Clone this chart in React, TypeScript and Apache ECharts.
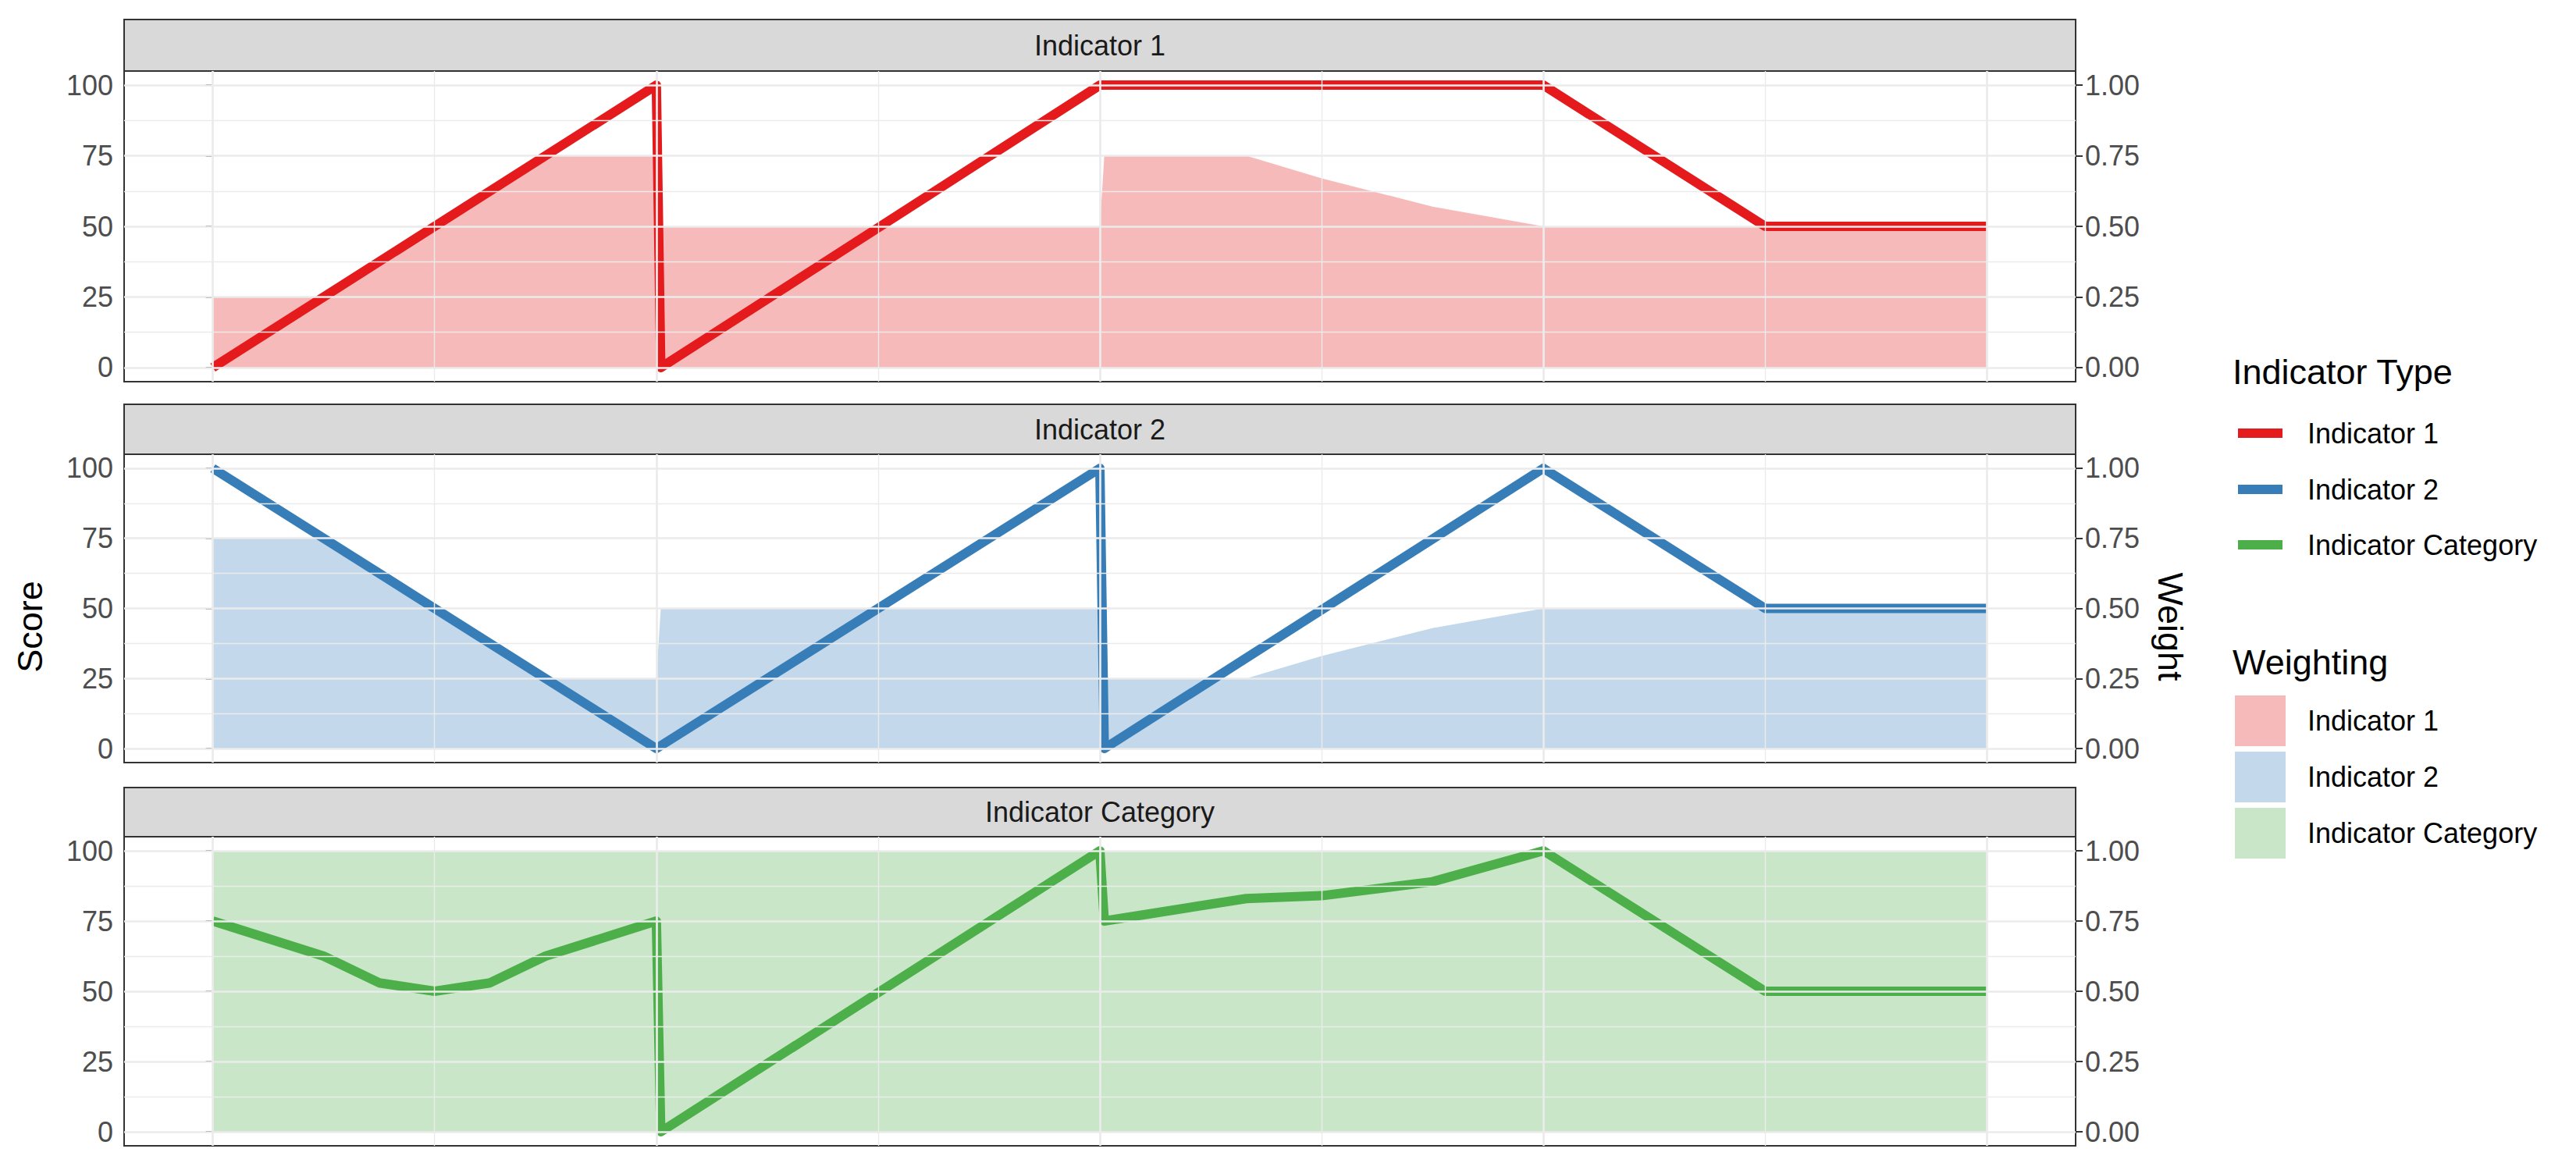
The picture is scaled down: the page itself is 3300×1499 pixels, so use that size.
import { useEffect, useRef } from "react";
import * as echarts from "echarts";

const panelNames = ["Indicator 1", "Indicator 2", "Indicator Category"];
const lineColors = ["#E41A1C", "#377EB8", "#4DAF4A"];

// score lines: [day, score]
const score1 = [[0, 0], [1, 100], [1.01, 0], [2, 100], [3, 100], [3.5, 50], [4, 50]];
const score2 = [[0, 100], [1, 0], [2, 100], [2.01, 0], [3, 100], [3.5, 50], [4, 50]];
const scoreCat = [
  [0, 75], [0.25, 62.5], [0.375, 53], [0.5, 50], [0.625, 53], [0.75, 62.5], [1, 75],
  [1.01, 0], [2, 100], [2.01, 75], [2.33, 83], [2.5, 84], [2.75, 89], [3, 100], [3.5, 50], [4, 50],
];

// weights: [day, weight]
const weight1 = [
  [0, 0.25], [0.25, 0.25], [0.75, 0.75], [1, 0.75], [1.01, 0.5], [2, 0.5], [2.01, 0.75],
  [2.33, 0.75], [2.5, 0.67], [2.75, 0.57], [3, 0.5], [4, 0.5],
];
const weight2 = [
  [0, 0.75], [0.25, 0.75], [0.75, 0.25], [1, 0.25], [1.01, 0.5], [2, 0.5], [2.01, 0.25],
  [2.33, 0.25], [2.5, 0.33], [2.75, 0.43], [3, 0.5], [4, 0.5],
];
const weightCat = [[0, 1], [4, 1]];

const scores = [score1, score2, scoreCat];
const weights = [weight1, weight2, weightCat];

const scoreTicks = [0, 25, 50, 75, 100];
const weightTicks = [0, 0.25, 0.5, 0.75, 1];

const FONT = "Liberation Sans, Arial, sans-serif";
const LEFT = 159;
const WIDTH = 2500;
const strips = [
  { top: 25, bottom: 91, end: 489 },
  { top: 518, bottom: 582, end: 977 },
  { top: 1009, bottom: 1072, end: 1468 },
];

export default function App() {
  const ref = useRef<HTMLDivElement>(null);

  useEffect(() => {
    if (!ref.current) return;
    const chart = echarts.init(ref.current, undefined, { renderer: "svg" });

    const grid: any[] = [];
    const xAxis: any[] = [];
    const yAxis: any[] = [];
    const series: any[] = [];
    const graphic: any[] = [];

    strips.forEach((s, i) => {
      grid.push({
        left: LEFT, width: WIDTH, top: s.bottom, height: s.end - s.bottom,
        show: true, borderColor: "#333333", borderWidth: 2, backgroundColor: "#fff",
      });
      xAxis.push({
        type: "value", gridIndex: i, min: -0.2, max: 4.2, show: false,
      });
      yAxis.push({
        type: "value", gridIndex: i, min: -5, max: 105, position: "left",
        axisLine: { show: false },
        axisTick: { show: true, length: 9, customValues: scoreTicks, lineStyle: { color: "#333", width: 2 } },
        axisLabel: { customValues: scoreTicks, color: "#4D4D4D", fontSize: 36, fontFamily: FONT, margin: 14 },
        splitLine: { show: false },
      });
      yAxis.push({
        type: "value", gridIndex: i, min: -0.05, max: 1.05, position: "right",
        axisLine: { show: false },
        axisTick: { show: true, length: 9, customValues: weightTicks, lineStyle: { color: "#333", width: 2 } },
        axisLabel: {
          customValues: weightTicks, color: "#4D4D4D", fontSize: 36, fontFamily: FONT, margin: 12,
          formatter: (v: number) => v.toFixed(2),
        },
        splitLine: { show: false },
      });

      // grid lines
      const marks: any[] = [];
      for (let v = 0; v <= 100; v += 12.5) {
        marks.push({ yAxis: v, lineStyle: { color: "#EBEBEB", width: v % 25 === 0 ? 2.7 : 1.4, type: "solid" } });
      }
      for (let v = 0; v <= 4; v += 0.5) {
        marks.push({ xAxis: v, lineStyle: { color: "#EBEBEB", width: v % 1 === 0 ? 2.7 : 1.4, type: "solid" } });
      }
      series.push({
        type: "line", xAxisIndex: i, yAxisIndex: i * 2, data: [], z: 1,
        markLine: { silent: true, symbol: "none", label: { show: false }, data: marks, animation: false },
      });

      series.push({
        name: "w" + i, type: "line", xAxisIndex: i, yAxisIndex: i * 2 + 1, data: weights[i],
        showSymbol: false, lineStyle: { width: 0 }, z: 2,
        areaStyle: { color: lineColors[i], opacity: 0.3, origin: 0 },
      });
      series.push({
        name: panelNames[i], type: "line", xAxisIndex: i, yAxisIndex: i * 2, data: scores[i],
        showSymbol: false, clip: false, z: 3,
        lineStyle: { color: lineColors[i], width: 12, join: "round", cap: "butt" },
      });

      graphic.push({
        type: "rect", shape: { x: LEFT, y: s.top, width: WIDTH, height: s.bottom - s.top },
        style: { fill: "#D9D9D9", stroke: "#333333", lineWidth: 2 },
      });
      graphic.push({
        type: "text", x: LEFT + WIDTH / 2, y: (s.top + s.bottom) / 2,
        style: { text: panelNames[i], fontSize: 36, fontFamily: FONT, fill: "#1A1A1A", align: "center", verticalAlign: "middle" },
      });
    });

    graphic.push({
      type: "text", x: 38, y: 803, rotation: Math.PI / 2,
      style: { text: "Score", fontSize: 45, fontFamily: FONT, fill: "#000", align: "center", verticalAlign: "middle" },
    });
    graphic.push({
      type: "text", x: 2780, y: 803, rotation: -Math.PI / 2,
      style: { text: "Weight", fontSize: 45, fontFamily: FONT, fill: "#000", align: "center", verticalAlign: "middle" },
    });

    // legends
    graphic.push({
      type: "text", x: 2860, y: 476,
      style: { text: "Indicator Type", fontSize: 45, fontFamily: FONT, fill: "#000", verticalAlign: "middle" },
    });
    const lineY = [555, 627, 698];
    panelNames.forEach((n, i) => {
      graphic.push({
        type: "line", shape: { x1: 2867, y1: lineY[i], x2: 2924, y2: lineY[i] },
        style: { stroke: lineColors[i], lineWidth: 12 },
      });
      graphic.push({
        type: "text", x: 2956, y: lineY[i],
        style: { text: n, fontSize: 36, fontFamily: FONT, fill: "#000", verticalAlign: "middle" },
      });
    });
    graphic.push({
      type: "text", x: 2860, y: 848,
      style: { text: "Weighting", fontSize: 45, fontFamily: FONT, fill: "#000", verticalAlign: "middle" },
    });
    const sqY = [891, 963, 1035];
    panelNames.forEach((n, i) => {
      graphic.push({
        type: "rect", shape: { x: 2863, y: sqY[i], width: 65, height: 65 },
        style: { fill: lineColors[i], opacity: 0.3 },
      });
      graphic.push({
        type: "text", x: 2956, y: sqY[i] + 32,
        style: { text: n, fontSize: 36, fontFamily: FONT, fill: "#000", verticalAlign: "middle" },
      });
    });

    chart.setOption({
      animation: false,
      backgroundColor: "#fff",
      grid, xAxis, yAxis, series, graphic,
    });

    return () => chart.dispose();
  }, []);

  return (
    <div
      ref={ref}
      style={{ position: "absolute", left: 0, top: 0, width: 3300, height: 1499 }}
    />
  );
}
